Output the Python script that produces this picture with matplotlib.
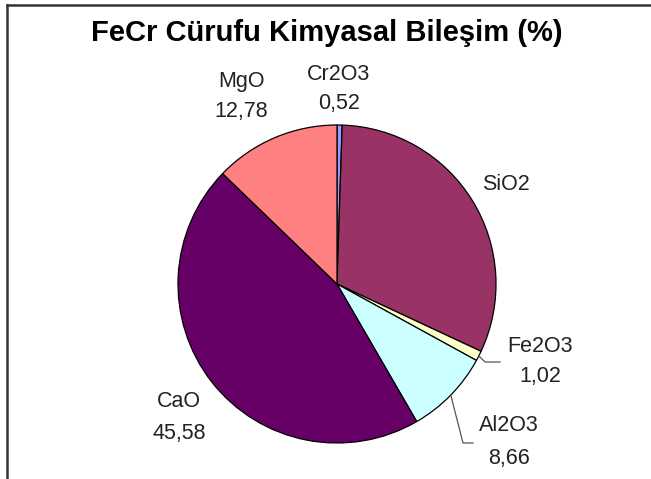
import numpy as np
import matplotlib
matplotlib.use("Agg")
import matplotlib.pyplot as plt
from matplotlib.lines import Line2D
from matplotlib import font_manager

plt.rcParams['font.family'] = ['Liberation Sans', 'DejaVu Sans']

categories = ["Cr2O3", "SiO2", "Fe2O3", "Al2O3", "CaO", "MgO"]
values = [0.52, 31.44, 1.02, 8.66, 45.58, 12.78]
value_labels = ["0,52", None, "1,02", "8,66", "45,58", "12,78"]
colors = ["#9999FF", "#993366", "#FFFFCC", "#CCFFFF", "#660066", "#FF8080"]

# choose a narrow label font if available
try:
    font_manager.findfont(font_manager.FontProperties(family='Liberation Sans Narrow'),
                          fallback_to_default=False)
    label_family = ['Liberation Sans Narrow', 'DejaVu Sans']
    label_size = 17
except Exception:
    label_family = ['Liberation Sans', 'DejaVu Sans']
    label_size = 15.5

W, H = 651, 479
fig = plt.figure(figsize=(W / 100, H / 100), dpi=100)
ax = fig.add_axes([0, 0, 1, 1])

cx, cy, R = 337, H - 284, 159
wedges, _ = ax.pie(values, colors=colors, startangle=90, counterclock=False,
                   center=(cx, cy), radius=R, frame=True,
                   wedgeprops=dict(edgecolor='black', linewidth=0.9))
ax.set_xlim(0, W)
ax.set_ylim(0, H)
ax.set_aspect('equal')
ax.axis('off')

# frame (top and left border)
fig.add_artist(Line2D([7 / W, 7 / W], [0, 1 - 5 / H], transform=fig.transFigure,
                      color='#333333', linewidth=1.8))
fig.add_artist(Line2D([7 / W, 1], [1 - 5 / H, 1 - 5 / H], transform=fig.transFigure,
                      color='#333333', linewidth=1.8))

ax.text(327, H - 33, "FeCr Cürufu Kimyasal Bileşim (%)", ha='center', va='center',
        fontsize=21, fontweight='bold', color='black')

# label line centres (pixel coords): name line, value line
label_pos = {
    "Cr2O3": (339, 71.5, 101),
    "SiO2": (506, 182, None),
    "Fe2O3": (540, 344, 374),
    "Al2O3": (509, 423, 456),
    "CaO": (179, 399, 431),
    "MgO": (241, 78.5, 108.5),
}
for cat, vl in zip(categories, value_labels):
    x, y1, y2 = label_pos[cat]
    ax.text(x, H - y1, cat, ha='center', va='center_baseline', fontsize=label_size,
            family=label_family, color='#222222')
    if vl is not None:
        ax.text(x, H - y2, vl, ha='center', va='center_baseline', fontsize=label_size,
                family=label_family, color='#222222')

# leader lines for small slices
cum = np.cumsum([0] + values[:-1])
total = sum(values)
elbows = {"Fe2O3": [(485, 362), (500, 362)], "Al2O3": [(463, 443), (473, 443)]}
for i, cat in enumerate(categories):
    if cat in elbows:
        mid = 90 - 360 * (cum[i] + values[i] / 2) / total
        sx = cx + R * np.cos(np.radians(mid))
        sy = cy + R * np.sin(np.radians(mid))
        pts = [(sx, sy)] + [(px, H - py) for px, py in elbows[cat]]
        ax.plot([p[0] for p in pts], [p[1] for p in pts], color='#555555', linewidth=0.9)

fig.savefig("out.png", dpi=100, facecolor='white')
